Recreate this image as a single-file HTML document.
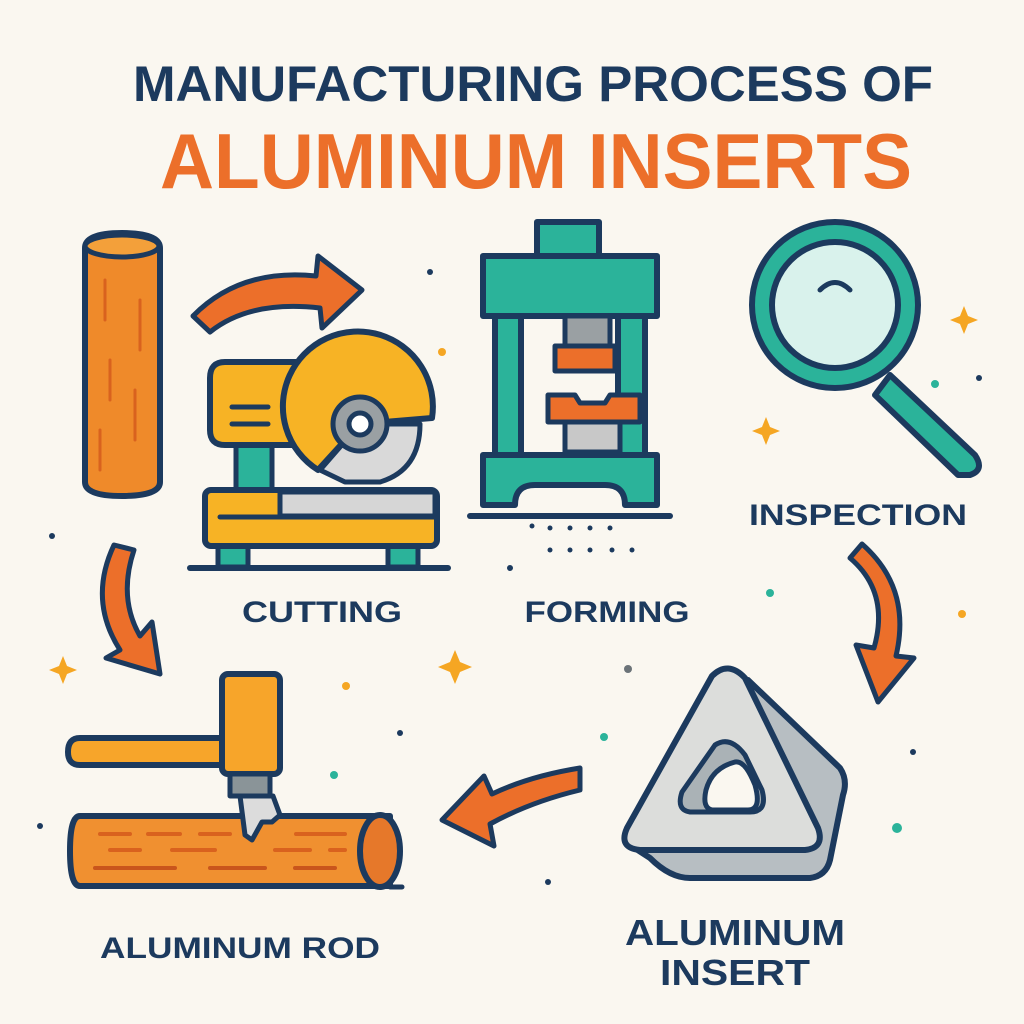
<!DOCTYPE html>
<html><head><meta charset="utf-8"><style>
html,body{margin:0;padding:0;background:#faf7f0;}
svg{display:block}
text{font-family:"Liberation Sans",sans-serif;font-weight:bold;}
</style></head><body>
<svg width="1024" height="1024" viewBox="0 0 1024 1024" xmlns="http://www.w3.org/2000/svg">
<rect width="1024" height="1024" fill="#faf7f0"/>
<g stroke-linejoin="round" stroke-linecap="round">
<text x="533" y="101" font-size="50" fill="#1c3a5e" text-anchor="middle" textLength="800" lengthAdjust="spacingAndGlyphs">MANUFACTURING PROCESS OF</text>
<text x="536" y="188" font-size="78" fill="#ec6f2a" text-anchor="middle" textLength="752" lengthAdjust="spacingAndGlyphs">ALUMINUM INSERTS</text>

<path d="M85,248 Q85,233 122,233 Q160,233 160,248 L160,482 Q160,496 122,496 Q85,496 85,482 Z" fill="#ef8a2a" stroke="#1c3a5e" stroke-width="6"/>
<ellipse cx="122" cy="246" rx="37" ry="11" fill="#f3a03a" stroke="#1c3a5e" stroke-width="5"/>
<g stroke="#d9621e" stroke-width="3"><line x1="105" y1="280" x2="105" y2="320"/><line x1="140" y1="300" x2="140" y2="350"/><line x1="110" y1="360" x2="110" y2="400"/><line x1="135" y1="390" x2="135" y2="440"/><line x1="100" y1="430" x2="100" y2="470"/></g>

<path d="M193,316 Q240,268 316,276 L318,256 L362,290 L322,328 L320,308 Q250,300 210,332 Z" fill="#ec6f2a" stroke="#1c3a5e" stroke-width="5"/>

<line x1="190" y1="568" x2="448" y2="568" stroke="#1c3a5e" stroke-width="6"/>
<rect x="218" y="545" width="30" height="22" fill="#2bb39a" stroke="#1c3a5e" stroke-width="5"/>
<rect x="388" y="545" width="30" height="22" fill="#2bb39a" stroke="#1c3a5e" stroke-width="5"/>
<rect x="236" y="440" width="36" height="52" fill="#2bb39a" stroke="#1c3a5e" stroke-width="5"/>
<rect x="205" y="490" width="232" height="56" rx="6" fill="#f7b325" stroke="#1c3a5e" stroke-width="6"/>
<rect x="280" y="492" width="155" height="24" fill="#d6d6d6" stroke="#1c3a5e" stroke-width="5"/>
<line x1="220" y1="517" x2="435" y2="517" stroke="#1c3a5e" stroke-width="5"/>
<path d="M225,362 L345,362 L345,445 L225,445 Q210,445 210,430 L210,378 Q210,362 225,362 Z" fill="#f7b325" stroke="#1c3a5e" stroke-width="6"/>
<line x1="232" y1="407" x2="268" y2="407" stroke="#1c3a5e" stroke-width="5"/>
<line x1="232" y1="424" x2="268" y2="424" stroke="#1c3a5e" stroke-width="5"/>
<path d="M360,424 L420,424 Q420,470 380,482 L345,482 L320,470 Z" fill="#d9d9d9" stroke="#1c3a5e" stroke-width="5"/>
<path d="M360,424 L432,418 A75,75 0 1 0 318,470 Z" fill="#f7b325" stroke="#1c3a5e" stroke-width="6"/>
<circle cx="360" cy="424" r="27" fill="#9aa0a3" stroke="#1c3a5e" stroke-width="5"/>
<circle cx="360" cy="424" r="11" fill="#fff" stroke="#1c3a5e" stroke-width="5"/>

<rect x="537" y="222" width="62" height="36" fill="#2bb39a" stroke="#1c3a5e" stroke-width="6"/>
<rect x="483" y="256" width="174" height="60" fill="#2bb39a" stroke="#1c3a5e" stroke-width="6"/>
<rect x="495" y="316" width="26" height="142" fill="#2bb39a" stroke="#1c3a5e" stroke-width="6"/>
<rect x="618" y="316" width="27" height="142" fill="#2bb39a" stroke="#1c3a5e" stroke-width="6"/>
<rect x="565" y="316" width="45" height="30" fill="#9aa0a3" stroke="#1c3a5e" stroke-width="5"/>
<rect x="555" y="346" width="60" height="25" fill="#ec6f2a" stroke="#1c3a5e" stroke-width="5"/>
<path d="M548,395 L575,395 L580,403 L605,403 L610,395 L640,395 L640,422 L548,422 Z" fill="#ec6f2a" stroke="#1c3a5e" stroke-width="5"/>
<rect x="565" y="422" width="55" height="30" fill="#c8c8c8" stroke="#1c3a5e" stroke-width="5"/>
<path d="M483,455 L657,455 L657,505 L625,505 Q625,485 605,485 L535,485 Q515,485 515,505 L483,505 Z" fill="#2bb39a" stroke="#1c3a5e" stroke-width="6"/>
<line x1="470" y1="516" x2="670" y2="516" stroke="#1c3a5e" stroke-width="6"/>
<g fill="#1c3a5e"><circle cx="532" cy="526" r="2.5"/><circle cx="550" cy="528" r="2.5"/><circle cx="570" cy="528" r="2.5"/><circle cx="590" cy="528" r="2.5"/><circle cx="610" cy="528" r="2.5"/><circle cx="550" cy="550" r="2.5"/><circle cx="570" cy="550" r="2.5"/><circle cx="590" cy="550" r="2.5"/><circle cx="612" cy="550" r="2.5"/><circle cx="632" cy="550" r="2.5"/></g>

<path d="M890,375 L975,455 Q985,470 970,475 L958,475 L875,395 Z" fill="#2bb39a" stroke="#1c3a5e" stroke-width="6"/>
<circle cx="835" cy="305" r="83" fill="#2bb39a" stroke="#1c3a5e" stroke-width="6"/>
<circle cx="835" cy="305" r="63" fill="#d9f2ec" stroke="#1c3a5e" stroke-width="6"/>
<path d="M820,290 Q835,275 850,290" fill="none" stroke="#1c3a5e" stroke-width="5"/>

<path d="M114,545 Q88,600 120,650 L106,658 L160,674 L152,622 L140,636 Q118,598 134,550 Z" fill="#ec6f2a" stroke="#1c3a5e" stroke-width="5"/>
<path d="M850,558 Q890,592 874,648 L856,645 L878,702 L914,658 L896,656 Q912,588 862,544 Z" fill="#ec6f2a" stroke="#1c3a5e" stroke-width="5"/>
<path d="M580,768 Q530,776 492,794 L484,776 L442,820 L494,846 L490,824 Q530,802 580,790 Z" fill="#ec6f2a" stroke="#1c3a5e" stroke-width="5"/>

<path d="M80,738 L225,738 L225,765 L80,765 Q68,765 68,752 Q68,738 80,738 Z" fill="#f7a52a" stroke="#1c3a5e" stroke-width="6"/>
<rect x="222" y="674" width="58" height="100" rx="6" fill="#f7a52a" stroke="#1c3a5e" stroke-width="6"/>
<rect x="230" y="774" width="40" height="22" fill="#8a9498" stroke="#1c3a5e" stroke-width="5"/>
<path d="M80,816 L390,816 L390,886 L80,886 Q70,886 70,851 Q70,816 80,816 Z" fill="#f09030" stroke="#1c3a5e" stroke-width="6"/>
<ellipse cx="380" cy="851" rx="20" ry="36" fill="#e6782a" stroke="#1c3a5e" stroke-width="6"/>
<path d="M240,796 L273,796 L280,815 L272,822 L262,822 L252,840 L245,835 Z" fill="#dcdcdc" stroke="#1c3a5e" stroke-width="5"/>
<g stroke="#d9621e" stroke-width="4"><line x1="100" y1="834" x2="130" y2="834"/><line x1="148" y1="834" x2="180" y2="834"/><line x1="200" y1="834" x2="230" y2="834"/><line x1="296" y1="834" x2="345" y2="834"/><line x1="110" y1="850" x2="140" y2="850"/><line x1="172" y1="850" x2="215" y2="850"/><line x1="275" y1="850" x2="310" y2="850"/><line x1="330" y1="850" x2="345" y2="850"/><line x1="95" y1="868" x2="175" y2="868" stroke="#c9551c"/><line x1="210" y1="868" x2="265" y2="868" stroke="#c9551c"/><line x1="295" y1="868" x2="335" y2="868" stroke="#c9551c"/></g>
<line x1="390" y1="887" x2="402" y2="887" stroke="#1c3a5e" stroke-width="5"/>

<path d="M748,680 L840,768 Q848,780 843,795 L830,860 Q826,876 810,878 L690,878 Q670,878 650,858 L630,845 Z" fill="#b7bec2" stroke="#1c3a5e" stroke-width="6"/>
<path d="M712,676 Q728,660 745,678 L818,828 Q825,848 805,850 L640,850 Q618,848 627,828 Z" fill="#dcdddb" stroke="#1c3a5e" stroke-width="6"/>
<path d="M715,745 Q730,735 745,755 L762,790 Q768,812 750,812 L690,812 Q676,810 682,792 Z" fill="#aab2b6" stroke="#1c3a5e" stroke-width="5"/>
<path d="M735,762 Q745,760 755,785 Q762,810 748,810 L712,810 Q702,808 706,790 Q712,768 735,762 Z" fill="#faf7f0" stroke="#1c3a5e" stroke-width="5"/>

<g fill="#1c3a5e" font-size="30">
<text x="322" y="622" text-anchor="middle" textLength="160" lengthAdjust="spacingAndGlyphs">CUTTING</text>
<text x="607" y="622" text-anchor="middle" textLength="165" lengthAdjust="spacingAndGlyphs">FORMING</text>
<text x="858" y="525" text-anchor="middle" textLength="218" lengthAdjust="spacingAndGlyphs">INSPECTION</text>
<text x="240" y="958" text-anchor="middle" textLength="280" lengthAdjust="spacingAndGlyphs">ALUMINUM ROD</text>
<text x="735" y="945" text-anchor="middle" font-size="36" textLength="220" lengthAdjust="spacingAndGlyphs">ALUMINUM</text>
<text x="735" y="985" text-anchor="middle" font-size="36" textLength="150" lengthAdjust="spacingAndGlyphs">INSERT</text>
</g>

<g fill="#f5a623">
<path d="M964,306 l4,10 l10,4 l-10,4 l-4,10 l-4,-10 l-10,-4 l10,-4 Z"/>
<path d="M766,417 l4,10 l10,4 l-10,4 l-4,10 l-4,-10 l-10,-4 l10,-4 Z"/>
<path d="M63,656 l4,10 l10,4 l-10,4 l-4,10 l-4,-10 l-10,-4 l10,-4 Z"/>
<path d="M455,650 l5,12 l12,5 l-12,5 l-5,12 l-5,-12 l-12,-5 l12,-5 Z"/>
<circle cx="442" cy="352" r="4"/><circle cx="346" cy="686" r="4"/><circle cx="962" cy="614" r="4"/>
</g>
<g fill="#2bb39a"><circle cx="935" cy="384" r="4"/><circle cx="770" cy="593" r="4"/><circle cx="604" cy="737" r="4"/><circle cx="334" cy="775" r="4"/><circle cx="897" cy="828" r="5"/></g>
<g fill="#1c3a5e"><circle cx="430" cy="272" r="3"/><circle cx="979" cy="378" r="3"/><circle cx="52" cy="536" r="3"/><circle cx="510" cy="568" r="3"/><circle cx="400" cy="733" r="3"/><circle cx="40" cy="826" r="3"/><circle cx="628" cy="669" r="4" fill="#6b7378"/><circle cx="548" cy="882" r="3"/><circle cx="913" cy="752" r="3"/></g>
</g>
</svg>
</body></html>
